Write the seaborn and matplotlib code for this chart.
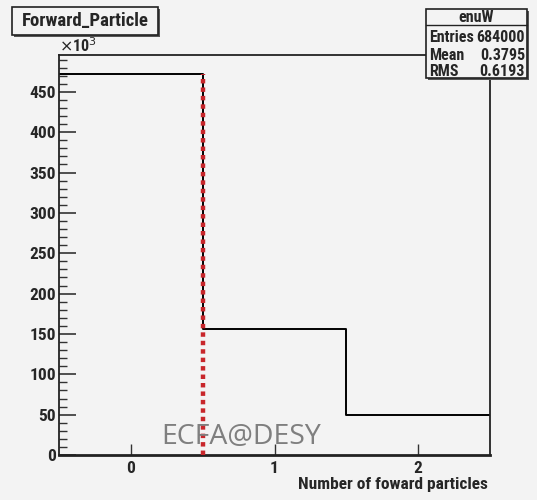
import matplotlib
matplotlib.use("Agg")
import matplotlib.pyplot as plt
from matplotlib.patches import Rectangle
from matplotlib.ticker import FuncFormatter, MultipleLocator
import seaborn as sns
import pandas as pd

# Histogram contents: number of forward particles per event
n_particles = [0, 1, 2]
counts = [472000, 156000, 50000]
bin_edges = [-0.5, 0.5, 1.5, 2.5]
y_ticks = [0, 50, 100, 150, 200, 250, 300, 350, 400, 450]

hist_name = "enuW"
title = "Forward_Particle"
stats = [("Entries", "684000"), ("Mean", "0.3795"), ("RMS", "0.6193")]
cut_value = 0.5

BG = "#f3f3f3"
W, H = 537, 500

sns.set_theme(style="ticks")
plt.rcParams["font.family"] = ["Roboto Condensed", "Liberation Sans", "DejaVu Sans"]

df = pd.DataFrame({"n": n_particles, "count": counts})

fig = plt.figure(figsize=(W / 100, H / 100), dpi=100, facecolor=BG)
ax = fig.add_axes([59 / W, 1 - 455 / H, (490 - 59) / W, (455 - 55) / H])
ax.set_facecolor(BG)

sns.histplot(data=df, x="n", weights="count", bins=bin_edges, element="step",
             fill=False, color="black", linewidth=1.4, ax=ax)

# cut position
ax.vlines(cut_value, 0, counts[0], colors="#c8262b", linewidth=3.2,
          linestyles=(0, (1, 0.9)), zorder=5)

ax.set_xlim(-0.5, 2.5)
ax.set_ylim(0, max(counts) * 1.05)
ax.set_xticks(n_particles)
ax.set_yticks([v * 1000 for v in y_ticks])
ax.yaxis.set_minor_locator(MultipleLocator(10000))
ax.yaxis.set_major_formatter(FuncFormatter(lambda v, p: f"{v / 1000:.0f}"))

for s in ax.spines.values():
    s.set_color("#222222")
    s.set_linewidth(1.3)
ax.spines["bottom"].set_linewidth(2)

ax.tick_params(axis="y", which="major", direction="in", length=12, width=1.2,
               color="#333333", labelsize=12.5, pad=2)
ax.tick_params(axis="y", which="minor", direction="in", length=6, width=1.0,
               color="#333333")
ax.tick_params(axis="x", which="major", direction="in", length=8, width=1.0,
               color="#333333", labelsize=12.5, pad=4)
for lab in ax.get_xticklabels() + ax.get_yticklabels():
    lab.set_fontweight("bold")

ax.set_xlabel("Number of foward particles", fontsize=12.5, fontweight="bold",
              ha="right", x=0.995, labelpad=1)
ax.set_ylabel("")

fig.text(59 / W, 1 - 46 / H, r"$\times$10$^3$", fontsize=11.5,
         ha="left", va="center", fontweight="bold")

# watermark
fig.text(241 / W, 1 - 437 / H, "ECFA@DESY", fontsize=20.5, color="#7f7f7f",
         ha="center", va="center", family=["Open Sans", "DejaVu Sans"], zorder=10)

# title box
fig.patches.append(Rectangle((14 / W, 1 - 37 / H), 146 / W, 28 / H,
                             transform=fig.transFigure, facecolor="#555555",
                             edgecolor="none", zorder=8))
fig.patches.append(Rectangle((12 / W, 1 - 35 / H), 146 / W, 28 / H,
                             transform=fig.transFigure, facecolor=BG,
                             edgecolor="#222222", linewidth=1.2, zorder=9))
fig.text(85 / W, 1 - 21 / H, title, fontsize=13.5, fontweight="bold",
         ha="center", va="center", zorder=10)

# statistics box
bx0, bx1, by0, by1 = 426, 527, 9, 78
fig.patches.append(Rectangle(((bx0 + 2) / W, 1 - (by1 + 2) / H),
                             (bx1 - bx0) / W, (by1 - by0) / H,
                             transform=fig.transFigure, facecolor="#555555",
                             edgecolor="none", zorder=8))
fig.patches.append(Rectangle((bx0 / W, 1 - by1 / H), (bx1 - bx0) / W, (by1 - by0) / H,
                             transform=fig.transFigure, facecolor=BG,
                             edgecolor="#222222", linewidth=1.2, zorder=9))
fig.add_artist(plt.Line2D([bx0 / W, bx1 / W], [1 - 25 / H, 1 - 25 / H],
                          transform=fig.transFigure, color="#222222",
                          linewidth=1.0, zorder=10))
fig.text((bx0 + bx1) / 2 / W, 1 - 17 / H, hist_name, fontsize=11.5,
         fontweight="bold", ha="center", va="center", zorder=11)
for i, (k, v) in enumerate(stats):
    yy = 1 - (38 + i * 17) / H
    fig.text((bx0 + 3) / W, yy, k, fontsize=11.5, fontweight="bold",
             ha="left", va="center", zorder=11)
    fig.text((bx1 - 2) / W, yy, v, fontsize=11.5, fontweight="bold",
             ha="right", va="center", zorder=11)

fig.savefig("out.png", dpi=100, facecolor=BG)
